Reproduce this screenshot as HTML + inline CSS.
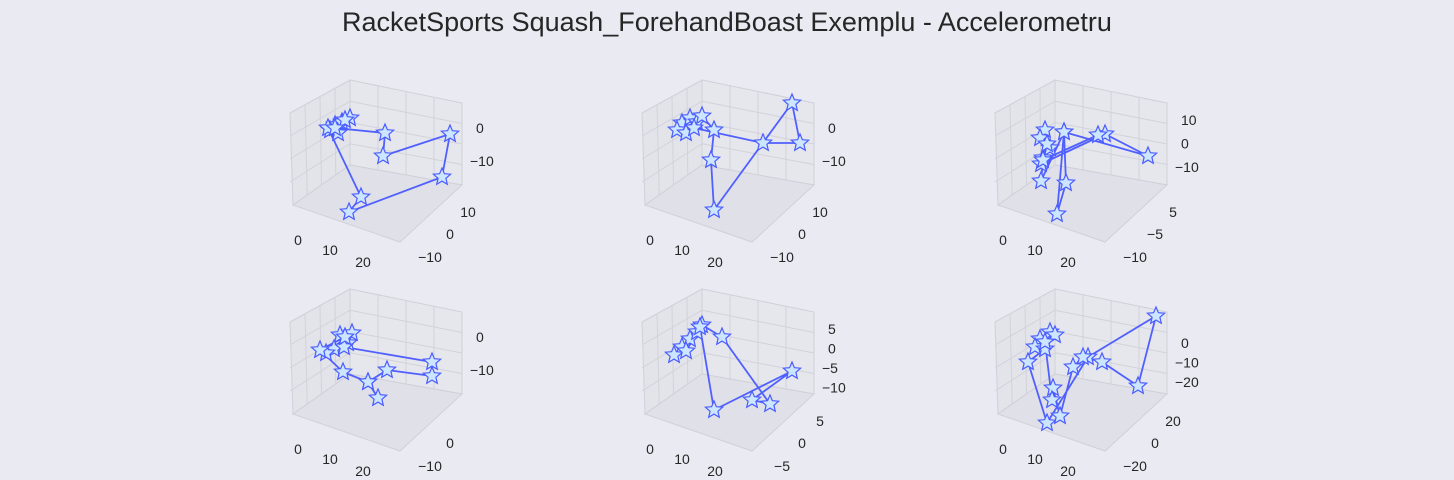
<!DOCTYPE html>
<html><head><meta charset="utf-8"><style>
body{margin:0;background:#eaeaf2;}
svg{display:block;font-family:"Liberation Sans",sans-serif;}
</style></head><body>
<svg id="c" width="1454" height="480">
<rect width="1454" height="480" fill="#eaeaf2"/>
<text x="727" y="31" text-anchor="middle" font-size="27" fill="#262626">RacketSports Squash_ForehandBoast Exemplu - Accelerometru</text>
</svg>
<script>
// projected-plane coordinates of each sample (units relative to the panel origin)
const p1u=[45,52,40,60,48,55,38,71,59,152,160,93,95,45];
const p1v=[47,44,52,40,55,42,50,119,134,99,56,78,55,50];
const p2u=[40,48,35,55,44,60,72,69,72,150,158,121,52];
const p2v=[45,40,52,44,55,38,52,82,132,25,65,65,50];
const p3u=[50,45,55,48,52,46,110,153,69,62,71,69,46,48,103];
const p3v=[52,60,70,80,66,86,56,78,54,136,105,54,103,82,57];
const p4u=[50,58,44,36,62,54,142,142,97,78,88,78,53,30,55];
const p4v=[48,56,62,66,46,60,75,89,83,95,111,95,85,63,50];
const p5u=[40,48,32,55,44,60,80,128,110,150,72,58];
const p5v=[60,52,68,45,64,38,50,117,113,84,123,40];
const p6u=[45,55,40,60,50,33,52,93,161,143,107,88,78,65,58,57,50];
const p6v=[52,45,60,48,62,75,136,70,29,99,75,70,80,129,101,113,55];
const uS=[p1u,p2u,p3u,p4u,p5u,p6u];
const vS=[p1v,p2v,p3v,p4v,p5v,p6v];
const xTicks=[["0","10","20"],["0","10","20"],["0","10","20"],["0","10","20"],["0","10","20"],["0","10","20"]];
const yTicks=[["10","0","−10"],["10","0","−10"],["5","−5","−10"],["0","−10"],["5","0","−5"],["20","0","−20"]];
const zTicks=[["0","−10"],["0","−10"],["10","0","−10"],["0","−10"],["5","0","−5","−10"],["0","−10","−20"]];
const colX=[290,642,995], rowY=[78,287];
const NS="http://www.w3.org/2000/svg";
const svg=document.getElementById('c');
function mk(t,a,p){const e=document.createElementNS(NS,t);for(const k in a)e.setAttribute(k,a[k]);(p||svg).appendChild(e);return e;}
function star(cx,cy,r){let s="";for(let i=0;i<10;i++){const rr=i%2?r*0.45:r;const a=-Math.PI/2+i*Math.PI/5;s+=(i?"L":"M")+(cx+rr*Math.cos(a)).toFixed(1)+","+(cy+rr*Math.sin(a)).toFixed(1);}return s+"Z";}
for(let k=0;k<6;k++){
  const ox=colX[k%3], oy=rowY[Math.floor(k/3)];
  const xs=u=>ox+u, ys=v=>oy+v;
  const g=mk('g',{});
  
  
  const P=(x,y)=>(ox+x)+","+(oy+y);
  const lw=mk('polygon',{points:[P(0,35),P(60,2),P(60,87),P(3,127)].join(" "),fill:"#e3e3ea",stroke:"#d0d0d8"},g);
  
  const rw=mk('polygon',{points:[P(60,2),P(172,25),P(172,107),P(60,87)].join(" "),fill:"#e6e6ed",stroke:"#d0d0d8"},g);
  
  const fl=mk('polygon',{points:[P(3,127),P(60,87),P(172,107),P(110,164)].join(" "),fill:"#e0e0e8",stroke:"#d0d0d8"},g);
  
  for(let i=1;i<4;i++){const t=i/4;
    mk('line',{x1:ox+60+112*t,y1:oy+2+23*t,x2:ox+60+112*t,y2:oy+87+20*t,stroke:"#d2d2da"},g);
    mk('line',{x1:ox+60*t,y1:oy+35-33*t,x2:ox+3+57*t,y2:oy+127-40*t,stroke:"#d2d2da"},g);
    mk('line',{x1:ox+60,y1:oy+2+85*t,x2:ox+172,y2:oy+25+82*t,stroke:"#d2d2da"},g);
    mk('line',{x1:ox+60,y1:oy+2+85*t,x2:ox,y2:oy+35+92*t,stroke:"#d2d2da"},g);
  }
  const xp=[[8,167],[40,177],[73,189]];
  xTicks[k].forEach((t,i)=>{const e=mk('text',{x:ox+xp[i][0],y:oy+xp[i][1],"font-size":14,fill:"#262626","text-anchor":"middle"},g);e.textContent=t;
    });
  const yp=yTicks[k].length===3?[[178,139],[160,161],[140,184]]:[[160,161],[140,184]];
  yTicks[k].forEach((t,i)=>{const e=mk('text',{x:ox+yp[i][0],y:oy+yp[i][1],"font-size":14,fill:"#262626","text-anchor":"middle"},g);e.textContent=t;
    });
  const nz=zTicks[k].length, zy0=nz===2?55:(nz===3?(k===5?61:47):47), zstep=nz===4?19.5:(nz===3?(k===5?19.5:23.5):33);
  zTicks[k].forEach((t,i)=>{const e=mk('text',{x:ox+172+(t.startsWith("−")?8:14),y:oy+zy0+i*zstep,"font-size":14,fill:"#262626"},g);e.textContent=t;
    });
  const u=uS[k], v=vS[k];
  const line=mk('polyline',{points:u.map((a,i)=>xs(a)+","+ys(v[i])).join(" "),fill:"none",stroke:"#5060ff","stroke-width":1.8,"stroke-linejoin":"round"},g);
  
  u.forEach((a,i)=>{const s=mk('path',{d:star(xs(a),ys(v[i]),9),fill:"#cce6ff",stroke:"#4a5cff","stroke-width":1.2},g);
    });
}
</script>
</body></html>
